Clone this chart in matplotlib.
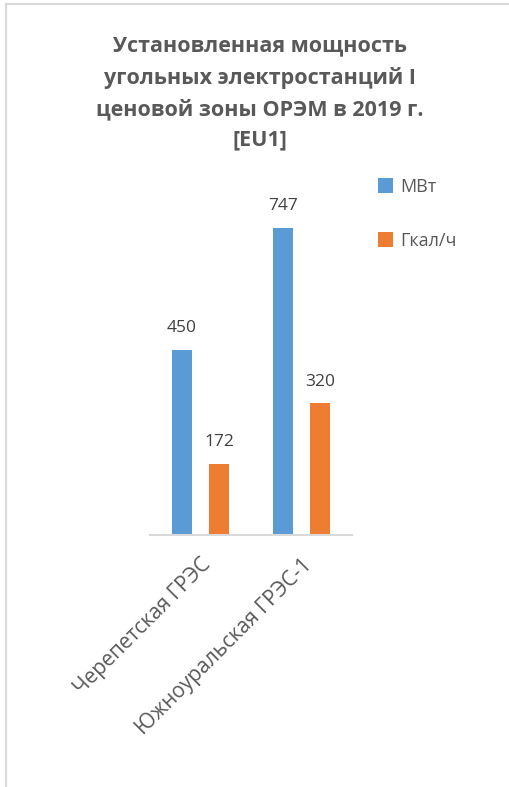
import numpy as np
import matplotlib.pyplot as plt
from matplotlib.lines import Line2D

# Данные
stations = ['Черепетская ГРЭС', 'Южноуральская ГРЭС-1']
mw = [450, 747]
gcal = [172, 320]
series_names = ['МВт', 'Гкал/ч']

blue = '#5B9BD5'
orange = '#ED7D31'
grey = '#595959'

plt.rcParams['font.family'] = ['Open Sans', 'DejaVu Sans']

fig = plt.figure(figsize=(5.09, 7.87), dpi=100)
ax = fig.add_axes([0.2947, 0.3202, 0.397, 0.418])

x = np.arange(len(stations))
w = 0.2
off = 0.183
b1 = ax.bar(x - off, mw, w, color=blue, label=series_names[0])
b2 = ax.bar(x + off, gcal, w, color=orange, label=series_names[1])

for bars in (b1, b2):
    for r in bars:
        ax.annotate(str(int(r.get_height())),
                    (r.get_x() + r.get_width() / 2, r.get_height()),
                    xytext=(0, 10), textcoords='offset points',
                    ha='center', va='bottom', fontsize=12.5, color='#404040')

ax.set_xlim(-0.5, 1.5)
ax.set_ylim(0, 800)
ax.set_yticks([])
for s in ['top', 'right', 'left']:
    ax.spines[s].set_visible(False)
ax.spines['bottom'].set_color('#D9D9D9')
ax.spines['bottom'].set_linewidth(1.5)
ax.set_xticks(x)
ax.set_xticklabels(stations, rotation=45, ha='right', va='top',
                   rotation_mode='anchor', fontsize=15, color=grey)
ax.tick_params(axis='x', length=0, pad=14)

fig.text(0.511, 0.955,
         'Установленная мощность\nугольных электростанций I\nценовой зоны ОРЭМ в 2019 г.\n[EU1]',
         ha='center', va='top', fontsize=15.5, fontweight='bold', color=grey,
         linespacing=1.6)

leg = fig.legend(handles=[b1, b2], labels=series_names, loc='upper left',
                 bbox_to_anchor=(0.71, 0.795), frameon=False, fontsize=13,
                 handlelength=0.85, handleheight=0.85, handletextpad=0.4,
                 labelspacing=2.0)
for t in leg.get_texts():
    t.set_color(grey)

# рамка
fig.add_artist(Line2D([0.012, 0.012], [0.0, 0.995], color='#D9D9D9', lw=1.5,
                      transform=fig.transFigure))
fig.add_artist(Line2D([0.012, 1.0], [0.995, 0.995], color='#D9D9D9', lw=1.5,
                      transform=fig.transFigure))

plt.savefig('out.png')
